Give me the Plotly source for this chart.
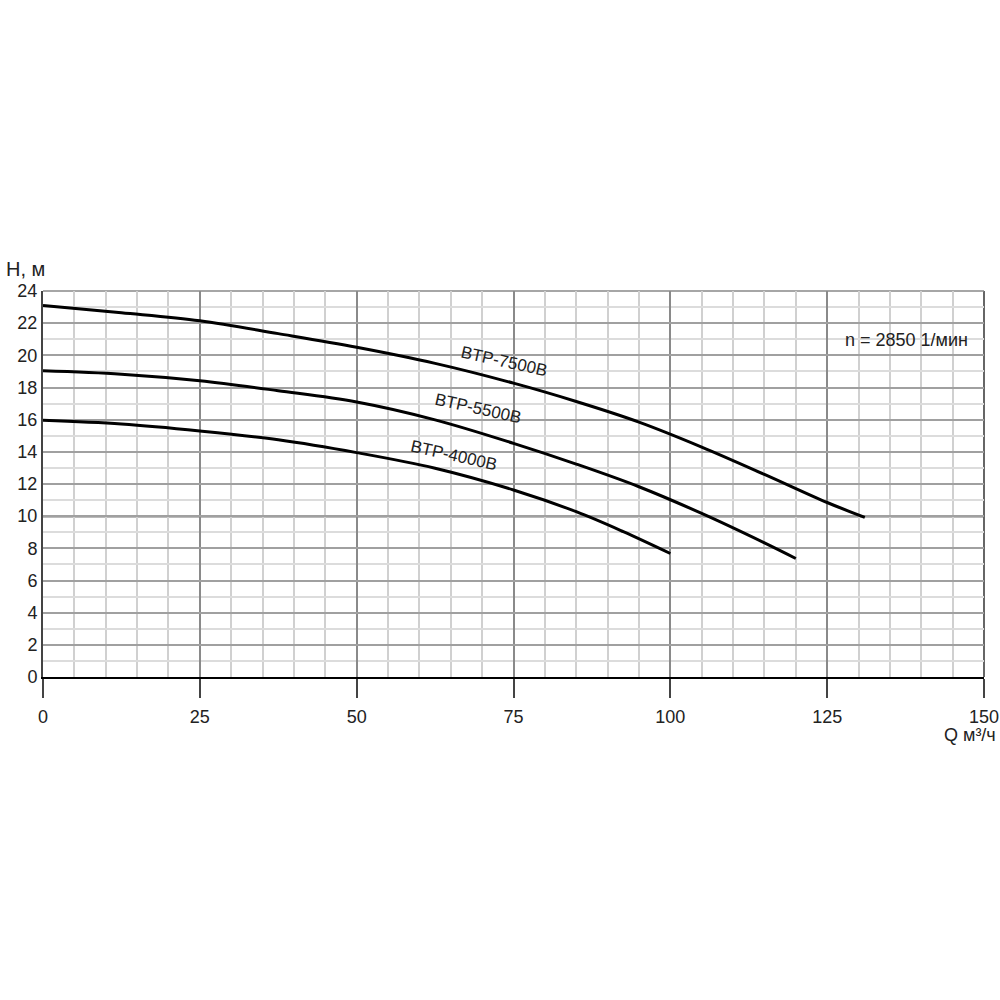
import plotly.graph_objects as go

# --- data ---
q_7500 = [0, 12.5, 25, 37.5, 50, 62.5, 75, 85, 95, 105, 115, 125, 131]
h_7500 = [23.1, 22.65, 22.15, 21.35, 20.5, 19.5, 18.27, 17.13, 15.85, 14.3, 12.6, 10.85, 9.92]

q_5500 = [0, 12.5, 25, 37.5, 50, 62.5, 75, 85, 95, 105, 115, 120]
h_5500 = [19.04, 18.83, 18.42, 17.8, 17.1, 15.99, 14.53, 13.24, 11.83, 10.17, 8.34, 7.37]

q_4000 = [0, 12.5, 25, 37.5, 50, 62.5, 75, 85, 92.5, 100]
h_4000 = [15.96, 15.73, 15.3, 14.75, 13.95, 12.98, 11.63, 10.28, 9.04, 7.68]

series_names = ["BTP-7500B", "BTP-5500B", "BTP-4000B"]
label_q = [73.5, 69.3, 65.5]
label_h = [19.6, 16.67, 13.8]

x_ticks = [0, 25, 50, 75, 100, 125, 150]
y_ticks = [0, 2, 4, 6, 8, 10, 12, 14, 16, 18, 20, 22, 24]

FONT = "Liberation Sans, Arial, sans-serif"
TXT = "#222222"

fig = go.Figure()
for qs, hs, name in zip([q_7500, q_5500, q_4000], [h_7500, h_5500, h_4000], series_names):
    fig.add_trace(go.Scatter(x=qs, y=hs, mode="lines", name=name,
                             line=dict(color="black", width=3, shape="spline", smoothing=1.0),
                             showlegend=False, hoverinfo="skip"))

for name, lq, lh in zip(series_names, label_q, label_h):
    fig.add_annotation(x=lq, y=lh, text=name, showarrow=False, textangle=12.5,
                       font=dict(family=FONT, size=17, color=TXT))

fig.add_annotation(x=137.6, y=20.96, text="n = 2850 1/мин", showarrow=False,
                   font=dict(family=FONT, size=18, color=TXT))

fig.add_annotation(xref="paper", yref="paper", x=-0.041, y=1.057, xanchor="left", yanchor="middle",
                   text="H, м", showarrow=False, font=dict(family=FONT, size=20, color=TXT))
fig.add_annotation(xref="paper", yref="paper", x=1.0145, y=-0.150, xanchor="right", yanchor="middle",
                   text="Q м³/ч", showarrow=False, font=dict(family=FONT, size=18, color=TXT))

# emphasised 10 m line and right/top borders
fig.add_shape(type="line", xref="paper", yref="y", x0=0, x1=1, y0=10, y1=10,
              line=dict(color="#777777", width=2.5), layer="below")
fig.add_shape(type="line", xref="paper", yref="paper", x0=1, x1=1, y0=0, y1=1,
              line=dict(color="#666666", width=2), layer="below")
fig.add_shape(type="line", xref="paper", yref="paper", x0=0, x1=1, y0=1, y1=1,
              line=dict(color="#888888", width=1.5), layer="below")

fig.update_layout(
    width=1000, height=1000,
    margin=dict(l=43, r=16, t=291, b=323, autoexpand=False),
    plot_bgcolor="white", paper_bgcolor="white",
    font=dict(family=FONT, color=TXT),
    xaxis=dict(range=[0, 150], tickvals=x_ticks, ticktext=[str(v) for v in x_ticks],
               automargin=False,
               showgrid=True, gridcolor="#8a8a8a", gridwidth=1.5,
               minor=dict(dtick=5, showgrid=True, gridcolor="#d0d0d0", gridwidth=1.5),
               showline=True, linecolor="black", linewidth=2,
               ticks="outside", ticklen=19, tickwidth=2, tickcolor="#444444",
               ticklabelstandoff=3,
               tickfont=dict(family=FONT, size=18, color=TXT), zeroline=False),
    yaxis=dict(range=[0, 24], tickvals=y_ticks, ticktext=[str(v) for v in y_ticks],
               automargin=False,
               showgrid=True, gridcolor="#a0a0a0", gridwidth=1.5,
               minor=dict(dtick=1, showgrid=True, gridcolor="#dcdcdc", gridwidth=1.5),
               showline=True, linecolor="#444444", linewidth=2,
               ticks="", ticklabelstandoff=0,
               tickfont=dict(family=FONT, size=18, color=TXT), zeroline=False),
)

fig.write_html("out.html", config={"displayModeBar": False},
               post_script="document.body.style.margin='0';document.body.style.overflow='hidden';")
